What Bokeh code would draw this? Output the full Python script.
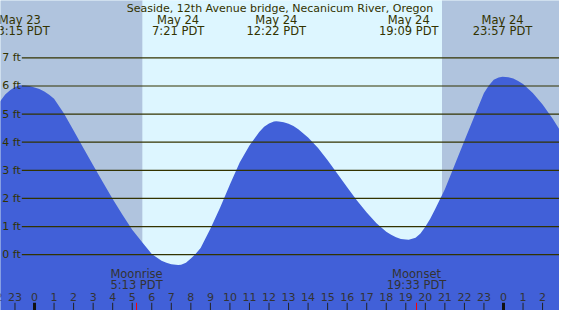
from bokeh.plotting import figure
from bokeh.core.properties import value
from bokeh.embed import file_html
from bokeh.resources import INLINE

# ---- data (hours relative to May 24 00:00 PDT, heights in feet) ----
tide_hours = [-2.0, -1.5, -1.25, -1.0, -0.75, -0.5, -0.25, 0.0, 0.25, 0.5, 0.75, 1.0, 1.5,
              2.0, 2.5, 3.0, 3.5, 4.0, 4.5, 5.0, 5.5, 6.0, 6.5, 6.75, 7.0, 7.35, 7.5, 7.75,
              8.0, 8.25, 8.5, 9.0, 9.5, 10.0, 10.5, 11.0, 11.5, 11.75, 12.0, 12.25, 12.37,
              12.5, 12.75, 13.0, 13.25, 13.5, 14.0, 14.5, 15.0, 15.5, 16.0, 16.5, 17.0,
              17.5, 18.0, 18.25, 18.5, 18.75, 19.0, 19.15, 19.5, 19.75, 20.0, 20.25, 20.5,
              21.0, 21.5, 22.0, 22.5, 23.0, 23.25, 23.5, 23.75, 23.95, 24.25, 24.5, 24.75,
              25.0, 25.5, 26.0, 26.5, 27.0]
tide_feet = [5.22, 5.70, 5.85, 5.96, 6.03, 6.02, 6.00, 5.95, 5.89, 5.80, 5.69, 5.55, 5.03,
             4.42, 3.79, 3.18, 2.58, 1.98, 1.42, 0.89, 0.45, 0.02, -0.22, -0.29, -0.34,
             -0.37, -0.36, -0.29, -0.14, 0.03, 0.24, 0.92, 1.68, 2.50, 3.28, 3.88, 4.36,
             4.55, 4.67, 4.74, 4.75, 4.74, 4.71, 4.66, 4.58, 4.46, 4.17, 3.80, 3.36, 2.88,
             2.40, 1.93, 1.50, 1.12, 0.82, 0.71, 0.62, 0.56, 0.54, 0.53, 0.60, 0.75, 0.99,
             1.28, 1.62, 2.33, 3.19, 4.05, 4.91, 5.75, 6.02, 6.22, 6.30, 6.33, 6.31, 6.27,
             6.18, 6.07, 5.75, 5.34, 4.85, 4.30]

extreme_hours = [-0.75, 7.35, 12.37, 19.15, 23.95]
extreme_days = ["May 23", "May 24", "May 24", "May 24", "May 24"]
extreme_clock = ["23:15 PDT", "7:21 PDT", "12:22 PDT", "19:09 PDT", "23:57 PDT"]

sunrise_hour = 5.53
sunset_hour = 20.85

moon_hours = [5.22, 19.55]
moon_names = ["Moonrise", "Moonset"]
moon_clock = ["5:13 PDT", "19:33 PDT"]

grid_feet = [0, 1, 2, 3, 4, 5, 6, 7]
grid_labels = ["0 ft", "1 ft", "2 ft", "3 ft", "4 ft", "5 ft", "6 ft", "7 ft"]

hour_ticks = list(range(-2, 27))
hour_labels = [str(h % 24) for h in hour_ticks]

title_text = "Seaside, 12th Avenue bridge, Necanicum River, Oregon"

# ---- layout ----
X0, X1 = -1.741, 26.866
Y0, Y1 = -1.985, 9.04
FONT = value("DejaVu Sans")
TXT = "#333300"
NIGHT = "#B0C4DE"
DAY = "#DDF6FF"
WATER = "#4160D8"

p = figure(width=559, height=310, x_range=(X0, X1), y_range=(Y0, Y1),
           output_backend="svg", toolbar_location=None, min_border=0)
p.axis.visible = False
p.grid.visible = False
p.outline_line_color = None
p.background_fill_color = DAY
p.border_fill_color = DAY

# day / night shading
p.quad(left=[X0 - 1, sunset_hour], right=[sunrise_hour, X1 + 1],
       bottom=Y0 - 1, top=Y1 + 1, fill_color=NIGHT, line_color=None)
p.quad(left=[sunrise_hour], right=[sunset_hour], bottom=Y0 - 1, top=Y1 + 1,
       fill_color=DAY, line_color=None)

# water
p.varea(x=tide_hours, y1=[Y0 - 1] * len(tide_hours), y2=tide_feet, fill_color=WATER)

# gridlines and their labels
p.segment(x0=[-0.65] * len(grid_feet), x1=[X1 + 1] * len(grid_feet),
          y0=grid_feet, y1=grid_feet, line_color="#333300", line_width=1.2)
p.text(x=[X0 + 0.09] * len(grid_feet), y=grid_feet, text=grid_labels,
       text_font=FONT, text_font_size="11px", text_color=TXT,
       text_align="left", text_baseline="middle")

# title
p.text(x=[(X0 + X1) / 2], y=[8.77], text=[title_text], text_font=FONT,
       text_font_size="11px", text_color=TXT, text_align="center",
       text_baseline="middle")

# extreme labels
p.text(x=extreme_hours, y=[8.36] * len(extreme_hours), text=extreme_days,
       text_font=FONT, text_font_size="11.5px", text_color=TXT,
       text_align="center", text_baseline="middle")
p.text(x=extreme_hours, y=[7.96] * len(extreme_hours), text=extreme_clock,
       text_font=FONT, text_font_size="11.5px", text_color=TXT,
       text_align="center", text_baseline="middle")

# moon labels
p.text(x=moon_hours, y=[-0.70] * len(moon_hours), text=moon_names,
       text_font=FONT, text_font_size="11.5px", text_color="#333333",
       text_align="center", text_baseline="middle")
p.text(x=moon_hours, y=[-1.07] * len(moon_hours), text=moon_clock,
       text_font=FONT, text_font_size="11.5px", text_color="#333333",
       text_align="center", text_baseline="middle")

# hour labels and ticks
p.text(x=hour_ticks, y=[-1.51] * len(hour_ticks), text=hour_labels,
       text_font=FONT, text_font_size="11px", text_color="#333333",
       text_align="center", text_baseline="middle")
minor = [h for h in hour_ticks if h % 24 != 0]
major = [h for h in hour_ticks if h % 24 == 0]
p.segment(x0=minor, x1=minor, y0=[-1.71] * len(minor), y1=[Y0 - 0.1] * len(minor),
          line_color="#222222", line_width=1)
p.segment(x0=major, x1=major, y0=[-1.71] * len(major), y1=[Y0 - 0.1] * len(major),
          line_color="#111111", line_width=3)
p.segment(x0=moon_hours, x1=moon_hours, y0=[-1.71] * len(moon_hours),
          y1=[Y0 - 0.1] * len(moon_hours), line_color="red", line_width=1)

open("out.html", "w").write(file_html(p, INLINE))
